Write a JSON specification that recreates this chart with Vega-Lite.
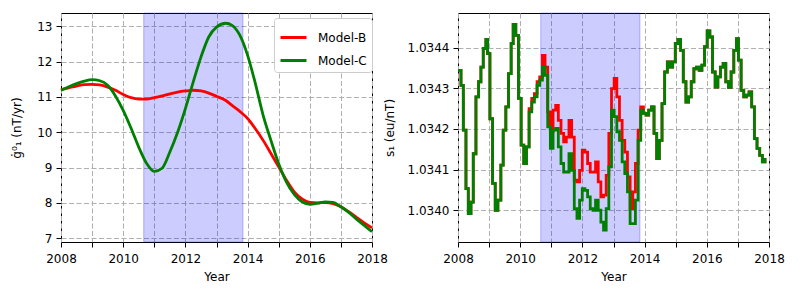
{
  "$schema": "https://vega.github.io/schema/vega-lite/v6.json",
  "padding": {"left": 10, "top": 12, "right": 5, "bottom": 5},
  "background": "white",
  "spacing": 86,
  "bounds": "flush",
  "datasets": {
    "span": [{"t": 2010.66, "t2": 2013.85}],
    "g": [
      {"t": 2008.0, "Model-B": 11.21, "Model-C": 11.19},
      {"t": 2008.25, "Model-B": 11.26, "Model-C": 11.29},
      {"t": 2008.5, "Model-B": 11.31, "Model-C": 11.38},
      {"t": 2008.75, "Model-B": 11.35, "Model-C": 11.45},
      {"t": 2009.0, "Model-B": 11.36, "Model-C": 11.49},
      {"t": 2009.25, "Model-B": 11.34, "Model-C": 11.46},
      {"t": 2009.5, "Model-B": 11.28, "Model-C": 11.33},
      {"t": 2009.75, "Model-B": 11.19, "Model-C": 11.03},
      {"t": 2010.0, "Model-B": 11.07, "Model-C": 10.62},
      {"t": 2010.25, "Model-B": 10.98, "Model-C": 10.12},
      {"t": 2010.5, "Model-B": 10.94, "Model-C": 9.58},
      {"t": 2010.75, "Model-B": 10.94, "Model-C": 9.12},
      {"t": 2011.0, "Model-B": 10.98, "Model-C": 8.89},
      {"t": 2011.25, "Model-B": 11.03, "Model-C": 8.98},
      {"t": 2011.5, "Model-B": 11.09, "Model-C": 9.44},
      {"t": 2011.75, "Model-B": 11.14, "Model-C": 10.0},
      {"t": 2012.0, "Model-B": 11.17, "Model-C": 10.67},
      {"t": 2012.25, "Model-B": 11.19, "Model-C": 11.42},
      {"t": 2012.5, "Model-B": 11.17, "Model-C": 12.13},
      {"t": 2012.75, "Model-B": 11.11, "Model-C": 12.7},
      {"t": 2013.0, "Model-B": 11.02, "Model-C": 12.98},
      {"t": 2013.3, "Model-B": 10.9, "Model-C": 13.09},
      {"t": 2013.5, "Model-B": 10.76, "Model-C": 13.03},
      {"t": 2013.75, "Model-B": 10.59, "Model-C": 12.75},
      {"t": 2014.0, "Model-B": 10.39, "Model-C": 12.18},
      {"t": 2014.25, "Model-B": 10.1, "Model-C": 11.38},
      {"t": 2014.5, "Model-B": 9.77, "Model-C": 10.48},
      {"t": 2014.75, "Model-B": 9.4, "Model-C": 9.77},
      {"t": 2015.0, "Model-B": 9.02, "Model-C": 9.11},
      {"t": 2015.25, "Model-B": 8.64, "Model-C": 8.59},
      {"t": 2015.5, "Model-B": 8.31, "Model-C": 8.24},
      {"t": 2015.75, "Model-B": 8.11, "Model-C": 8.03},
      {"t": 2016.0, "Model-B": 8.01, "Model-C": 7.96},
      {"t": 2016.25, "Model-B": 8.0, "Model-C": 7.99},
      {"t": 2016.5, "Model-B": 8.01, "Model-C": 8.03},
      {"t": 2016.75, "Model-B": 7.98, "Model-C": 8.01},
      {"t": 2017.0, "Model-B": 7.89, "Model-C": 7.89},
      {"t": 2017.25, "Model-B": 7.75, "Model-C": 7.73},
      {"t": 2017.5, "Model-B": 7.59, "Model-C": 7.54},
      {"t": 2017.75, "Model-B": 7.43, "Model-C": 7.36},
      {"t": 2018.0, "Model-B": 7.29, "Model-C": 7.18}
    ],
    "s": [
      {"t": 2008.000, "Model-B": 1.034344, "Model-C": 1.034344},
      {"t": 2008.096, "Model-B": 1.034307, "Model-C": 1.034307},
      {"t": 2008.171, "Model-B": 1.034197, "Model-C": 1.034197},
      {"t": 2008.256, "Model-B": 1.034053, "Model-C": 1.034053},
      {"t": 2008.331, "Model-B": 1.033992, "Model-C": 1.033992},
      {"t": 2008.417, "Model-B": 1.034020, "Model-C": 1.034020},
      {"t": 2008.491, "Model-B": 1.034139, "Model-C": 1.034139},
      {"t": 2008.577, "Model-B": 1.034279, "Model-C": 1.034279},
      {"t": 2008.662, "Model-B": 1.034316, "Model-C": 1.034316},
      {"t": 2008.737, "Model-B": 1.034352, "Model-C": 1.034352},
      {"t": 2008.812, "Model-B": 1.034398, "Model-C": 1.034398},
      {"t": 2008.897, "Model-B": 1.034420, "Model-C": 1.034420},
      {"t": 2008.951, "Model-B": 1.034385, "Model-C": 1.034385},
      {"t": 2009.026, "Model-B": 1.034225, "Model-C": 1.034225},
      {"t": 2009.111, "Model-B": 1.034066, "Model-C": 1.034066},
      {"t": 2009.197, "Model-B": 1.034000, "Model-C": 1.034000},
      {"t": 2009.282, "Model-B": 1.034025, "Model-C": 1.034025},
      {"t": 2009.378, "Model-B": 1.034111, "Model-C": 1.034111},
      {"t": 2009.453, "Model-B": 1.034197, "Model-C": 1.034197},
      {"t": 2009.538, "Model-B": 1.034254, "Model-C": 1.034254},
      {"t": 2009.624, "Model-B": 1.034336, "Model-C": 1.034336},
      {"t": 2009.709, "Model-B": 1.034410, "Model-C": 1.034410},
      {"t": 2009.774, "Model-B": 1.034457, "Model-C": 1.034457},
      {"t": 2009.859, "Model-B": 1.034430, "Model-C": 1.034430},
      {"t": 2009.944, "Model-B": 1.034275, "Model-C": 1.034275},
      {"t": 2010.030, "Model-B": 1.034160, "Model-C": 1.034160},
      {"t": 2010.115, "Model-B": 1.034115, "Model-C": 1.034115},
      {"t": 2010.201, "Model-B": 1.034156, "Model-C": 1.034156},
      {"t": 2010.286, "Model-B": 1.034250, "Model-C": 1.034242},
      {"t": 2010.372, "Model-B": 1.034275, "Model-C": 1.034266},
      {"t": 2010.457, "Model-B": 1.034287, "Model-C": 1.034279},
      {"t": 2010.543, "Model-B": 1.034316, "Model-C": 1.034307},
      {"t": 2010.628, "Model-B": 1.034328, "Model-C": 1.034320},
      {"t": 2010.714, "Model-B": 1.034381, "Model-C": 1.034352},
      {"t": 2010.799, "Model-B": 1.034352, "Model-C": 1.034332},
      {"t": 2010.885, "Model-B": 1.034242, "Model-C": 1.034205},
      {"t": 2010.970, "Model-B": 1.034193, "Model-C": 1.034152},
      {"t": 2011.056, "Model-B": 1.034246, "Model-C": 1.034197},
      {"t": 2011.141, "Model-B": 1.034258, "Model-C": 1.034201},
      {"t": 2011.226, "Model-B": 1.034221, "Model-C": 1.034156},
      {"t": 2011.312, "Model-B": 1.034189, "Model-C": 1.034115},
      {"t": 2011.397, "Model-B": 1.034168, "Model-C": 1.034094},
      {"t": 2011.483, "Model-B": 1.034180, "Model-C": 1.034094},
      {"t": 2011.568, "Model-B": 1.034221, "Model-C": 1.034139},
      {"t": 2011.654, "Model-B": 1.034180, "Model-C": 1.034098},
      {"t": 2011.739, "Model-B": 1.034074, "Model-C": 1.034004},
      {"t": 2011.825, "Model-B": 1.034070, "Model-C": 1.033980},
      {"t": 2011.910, "Model-B": 1.034098, "Model-C": 1.034025},
      {"t": 2011.996, "Model-B": 1.034148, "Model-C": 1.034053},
      {"t": 2012.081, "Model-B": 1.034143, "Model-C": 1.034049},
      {"t": 2012.167, "Model-B": 1.034115, "Model-C": 1.034033},
      {"t": 2012.252, "Model-B": 1.034094, "Model-C": 1.034004},
      {"t": 2012.338, "Model-B": 1.034094, "Model-C": 1.034000},
      {"t": 2012.423, "Model-B": 1.034119, "Model-C": 1.034025},
      {"t": 2012.509, "Model-B": 1.034070, "Model-C": 1.034000},
      {"t": 2012.594, "Model-B": 1.034033, "Model-C": 1.033971},
      {"t": 2012.679, "Model-B": 1.034037, "Model-C": 1.033951},
      {"t": 2012.765, "Model-B": 1.034086, "Model-C": 1.034004},
      {"t": 2012.850, "Model-B": 1.034189, "Model-C": 1.034107},
      {"t": 2012.936, "Model-B": 1.034299, "Model-C": 1.034246},
      {"t": 2013.021, "Model-B": 1.034324, "Model-C": 1.034230},
      {"t": 2013.107, "Model-B": 1.034279, "Model-C": 1.034193},
      {"t": 2013.192, "Model-B": 1.034221, "Model-C": 1.034172},
      {"t": 2013.278, "Model-B": 1.034172, "Model-C": 1.034119},
      {"t": 2013.363, "Model-B": 1.034143, "Model-C": 1.034090},
      {"t": 2013.449, "Model-B": 1.034082, "Model-C": 1.034045},
      {"t": 2013.534, "Model-B": 1.034004, "Model-C": 1.033967},
      {"t": 2013.620, "Model-B": 1.034045, "Model-C": 1.033967},
      {"t": 2013.705, "Model-B": 1.034115, "Model-C": 1.034025},
      {"t": 2013.791, "Model-B": 1.034197, "Model-C": 1.034172},
      {"t": 2013.876, "Model-B": 1.034254, "Model-C": 1.034246},
      {"t": 2013.962, "Model-B": 1.034238, "Model-C": 1.034238},
      {"t": 2014.047, "Model-B": 1.034234, "Model-C": 1.034234},
      {"t": 2014.132, "Model-B": 1.034246, "Model-C": 1.034246},
      {"t": 2014.218, "Model-B": 1.034254, "Model-C": 1.034254},
      {"t": 2014.303, "Model-B": 1.034189, "Model-C": 1.034189},
      {"t": 2014.389, "Model-B": 1.034127, "Model-C": 1.034127},
      {"t": 2014.474, "Model-B": 1.034172, "Model-C": 1.034172},
      {"t": 2014.560, "Model-B": 1.034262, "Model-C": 1.034262},
      {"t": 2014.645, "Model-B": 1.034340, "Model-C": 1.034340},
      {"t": 2014.731, "Model-B": 1.034365, "Model-C": 1.034365},
      {"t": 2014.816, "Model-B": 1.034352, "Model-C": 1.034352},
      {"t": 2014.902, "Model-B": 1.034365, "Model-C": 1.034365},
      {"t": 2014.987, "Model-B": 1.034410, "Model-C": 1.034410},
      {"t": 2015.073, "Model-B": 1.034420, "Model-C": 1.034420},
      {"t": 2015.158, "Model-B": 1.034393, "Model-C": 1.034393},
      {"t": 2015.244, "Model-B": 1.034316, "Model-C": 1.034316},
      {"t": 2015.329, "Model-B": 1.034266, "Model-C": 1.034266},
      {"t": 2015.415, "Model-B": 1.034279, "Model-C": 1.034279},
      {"t": 2015.500, "Model-B": 1.034316, "Model-C": 1.034316},
      {"t": 2015.585, "Model-B": 1.034348, "Model-C": 1.034348},
      {"t": 2015.671, "Model-B": 1.034352, "Model-C": 1.034352},
      {"t": 2015.756, "Model-B": 1.034344, "Model-C": 1.034344},
      {"t": 2015.842, "Model-B": 1.034357, "Model-C": 1.034357},
      {"t": 2015.927, "Model-B": 1.034402, "Model-C": 1.034402},
      {"t": 2016.013, "Model-B": 1.034441, "Model-C": 1.034441},
      {"t": 2016.098, "Model-B": 1.034426, "Model-C": 1.034426},
      {"t": 2016.184, "Model-B": 1.034340, "Model-C": 1.034340},
      {"t": 2016.269, "Model-B": 1.034303, "Model-C": 1.034303},
      {"t": 2016.355, "Model-B": 1.034328, "Model-C": 1.034328},
      {"t": 2016.440, "Model-B": 1.034352, "Model-C": 1.034352},
      {"t": 2016.526, "Model-B": 1.034361, "Model-C": 1.034361},
      {"t": 2016.611, "Model-B": 1.034316, "Model-C": 1.034316},
      {"t": 2016.697, "Model-B": 1.034302, "Model-C": 1.034302},
      {"t": 2016.782, "Model-B": 1.034340, "Model-C": 1.034340},
      {"t": 2016.868, "Model-B": 1.034393, "Model-C": 1.034393},
      {"t": 2016.953, "Model-B": 1.034422, "Model-C": 1.034422},
      {"t": 2017.017, "Model-B": 1.034369, "Model-C": 1.034369},
      {"t": 2017.103, "Model-B": 1.034295, "Model-C": 1.034295},
      {"t": 2017.188, "Model-B": 1.034279, "Model-C": 1.034279},
      {"t": 2017.274, "Model-B": 1.034283, "Model-C": 1.034283},
      {"t": 2017.359, "Model-B": 1.034291, "Model-C": 1.034291},
      {"t": 2017.444, "Model-B": 1.034254, "Model-C": 1.034254},
      {"t": 2017.530, "Model-B": 1.034176, "Model-C": 1.034176},
      {"t": 2017.615, "Model-B": 1.034152, "Model-C": 1.034152},
      {"t": 2017.701, "Model-B": 1.034135, "Model-C": 1.034135},
      {"t": 2017.786, "Model-B": 1.034119, "Model-C": 1.034119},
      {"t": 2017.872, "Model-B": 1.034125, "Model-C": 1.034125},
      {"t": 2017.915, "Model-B": 1.034125, "Model-C": 1.034125}
    ]
  },
  "config": {
    "font": "DejaVu Sans",
    "view": {"stroke": "black", "strokeWidth": 1},
    "axis": {
      "labelFont": "DejaVu Sans", "labelFontSize": 12, "labelColor": "black",
      "titleFont": "DejaVu Sans", "titleFontSize": 12, "titleFontWeight": "normal", "titleColor": "black",
      "tickColor": "black", "tickSize": 5, "labelPadding": 4, "domain": false,
      "gridColor": "#b0b0b0", "gridDash": [5, 2.5], "gridWidth": 1, "gridOpacity": 1,
      "labelOverlap": false
    },
    "legend": {"labelFont": "DejaVu Sans", "labelFontSize": 12, "labelColor": "black"}
  },
  "resolve": {"scale": {"color": "independent"}, "legend": {"color": "independent"}},
  "hconcat": [
    {
      "width": 311,
      "height": 229,
      "encoding": {
        "x": {
          "field": "t", "type": "quantitative",
          "scale": {"domain": [2008, 2018], "nice": false, "zero": false},
          "axis": {"title": "Year", "values": [2008, 2009, 2010, 2011, 2012, 2013, 2014, 2015, 2016, 2017, 2018], "format": "d", "labelExpr": "datum.value % 2 == 0 ? datum.label : ''", "labelFlush": false, "labelPadding": 6, "titlePadding": 7}
        }
      },
      "layer": [
        {
          "data": {"name": "span"},
          "mark": {"type": "rect", "fill": "#0000ff", "fillOpacity": 0.2, "stroke": "#0000ff", "strokeOpacity": 0.25, "strokeWidth": 1},
          "encoding": {"x2": {"field": "t2"}}
        },
        {
          "data": {"name": "g"},
          "transform": [{"fold": ["Model-B", "Model-C"], "as": ["model", "value"]}],
          "mark": {"type": "line", "interpolate": "monotone", "strokeWidth": 2.8},
          "encoding": {
            "y": {
              "field": "value", "type": "quantitative",
              "scale": {"domain": [6.89, 13.38], "nice": false, "zero": false},
              "axis": {"title": "ġ⁰₁ (nT/yr)", "values": [7, 8, 9, 10, 11, 12, 13], "titlePadding": 13}
            },
            "color": {
              "field": "model", "type": "nominal",
              "scale": {"domain": ["Model-B", "Model-C"], "range": ["#ff0000", "#008000"]},
              "legend": {"orient": "none", "legendX": 213, "legendY": 5, "title": null, "padding": 5, "symbolType": "stroke", "symbolStrokeWidth": 3, "symbolSize": 676, "labelOffset": 10, "rowPadding": 2, "fillColor": "white", "strokeColor": "#cccccc", "cornerRadius": 3}
            }
          }
        }
      ]
    },
    {
      "width": 311,
      "height": 229,
      "encoding": {
        "x": {
          "field": "t", "type": "quantitative",
          "scale": {"domain": [2008, 2018], "nice": false, "zero": false},
          "axis": {"title": "Year", "values": [2008, 2009, 2010, 2011, 2012, 2013, 2014, 2015, 2016, 2017, 2018], "format": "d", "labelExpr": "datum.value % 2 == 0 ? datum.label : ''", "labelFlush": false, "labelPadding": 6, "titlePadding": 7}
        }
      },
      "layer": [
        {
          "data": {"name": "span"},
          "mark": {"type": "rect", "fill": "#0000ff", "fillOpacity": 0.2, "stroke": "#0000ff", "strokeOpacity": 0.25, "strokeWidth": 1},
          "encoding": {"x2": {"field": "t2"}}
        },
        {
          "data": {"name": "s"},
          "transform": [{"fold": ["Model-B", "Model-C"], "as": ["model", "value"]}],
          "mark": {"type": "line", "interpolate": "step-after", "strokeWidth": 2.8},
          "encoding": {
            "y": {
              "field": "value", "type": "quantitative",
              "scale": {"domain": [1.033922, 1.034485], "nice": false, "zero": false},
              "axis": {"title": "s₁ (eu/nT)", "values": [1.034, 1.0341, 1.0342, 1.0343, 1.0344], "format": ".4f", "titlePadding": 11}
            },
            "color": {
              "field": "model", "type": "nominal",
              "scale": {"domain": ["Model-B", "Model-C"], "range": ["#ff0000", "#008000"]},
              "legend": null
            }
          }
        }
      ]
    }
  ]
}
